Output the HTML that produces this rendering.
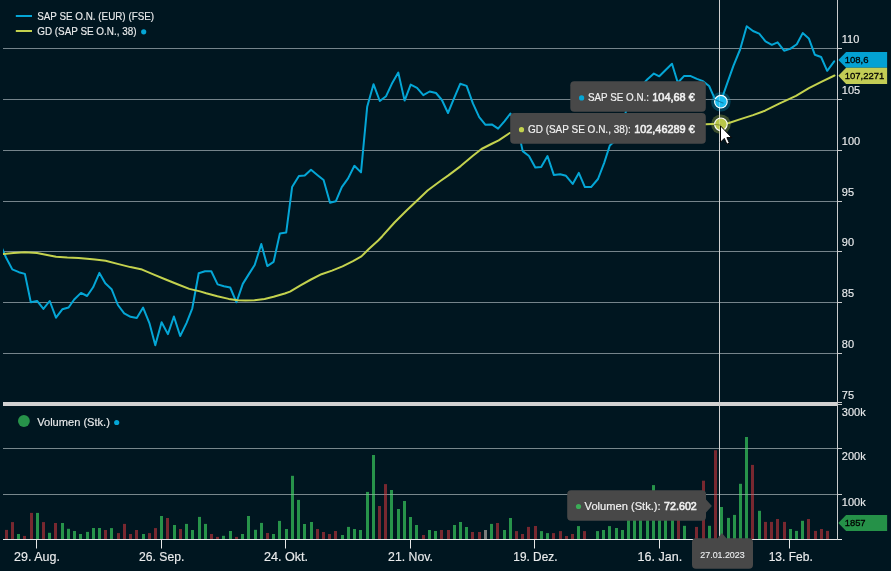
<!DOCTYPE html>
<html><head><meta charset="utf-8"><title>SAP SE Chart</title>
<style>html,body{margin:0;padding:0;background:#001620;}svg{display:block;will-change:transform;}</style>
</head><body>
<svg width="891" height="571" viewBox="0 0 891 571" font-family="'Liberation Sans', Arial, sans-serif"><rect width="891" height="571" fill="#001620"/><defs><clipPath id="cp"><rect x="3" y="0" width="834.5" height="402"/></clipPath><clipPath id="cv"><rect x="3" y="406" width="834.5" height="133"/></clipPath></defs><line x1="3" y1="48.5" x2="842" y2="48.5" stroke="#75848b" stroke-width="1"/><line x1="837" y1="48.5" x2="842" y2="48.5" stroke="#c9cbcc" stroke-width="1"/><line x1="3" y1="99.5" x2="842" y2="99.5" stroke="#75848b" stroke-width="1"/><line x1="837" y1="99.5" x2="842" y2="99.5" stroke="#c9cbcc" stroke-width="1"/><line x1="3" y1="150.5" x2="842" y2="150.5" stroke="#75848b" stroke-width="1"/><line x1="837" y1="150.5" x2="842" y2="150.5" stroke="#c9cbcc" stroke-width="1"/><line x1="3" y1="201.5" x2="842" y2="201.5" stroke="#75848b" stroke-width="1"/><line x1="837" y1="201.5" x2="842" y2="201.5" stroke="#c9cbcc" stroke-width="1"/><line x1="3" y1="251.5" x2="842" y2="251.5" stroke="#75848b" stroke-width="1"/><line x1="837" y1="251.5" x2="842" y2="251.5" stroke="#c9cbcc" stroke-width="1"/><line x1="3" y1="302.5" x2="842" y2="302.5" stroke="#75848b" stroke-width="1"/><line x1="837" y1="302.5" x2="842" y2="302.5" stroke="#c9cbcc" stroke-width="1"/><line x1="3" y1="353.5" x2="842" y2="353.5" stroke="#75848b" stroke-width="1"/><line x1="837" y1="353.5" x2="842" y2="353.5" stroke="#c9cbcc" stroke-width="1"/><line x1="3" y1="448.5" x2="837" y2="448.5" stroke="#3e545b" stroke-width="1"/><line x1="3" y1="494.5" x2="837" y2="494.5" stroke="#3e545b" stroke-width="1"/><rect x="5" y="529.9" width="3" height="9.1" fill="#782830"/><rect x="11" y="522.1" width="3" height="16.9" fill="#782830"/><rect x="17" y="534.0" width="3" height="5.0" fill="#27934a"/><rect x="23" y="535.9" width="3" height="3.1" fill="#782830"/><rect x="30" y="512.9" width="3" height="26.1" fill="#782830"/><rect x="36" y="512.9" width="3" height="26.1" fill="#27934a"/><rect x="42" y="522.1" width="3" height="16.9" fill="#782830"/><rect x="48" y="532.8" width="3" height="6.2" fill="#27934a"/><rect x="54" y="523.0" width="3" height="16.0" fill="#782830"/><rect x="61" y="523.0" width="3" height="16.0" fill="#27934a"/><rect x="67" y="528.8" width="3" height="10.2" fill="#27934a"/><rect x="73" y="531.0" width="3" height="8.0" fill="#27934a"/><rect x="79" y="534.0" width="3" height="5.0" fill="#27934a"/><rect x="86" y="531.9" width="3" height="7.1" fill="#27934a"/><rect x="92" y="528.0" width="3" height="11.0" fill="#27934a"/><rect x="98" y="528.0" width="3" height="11.0" fill="#27934a"/><rect x="104" y="530.0" width="3" height="9.0" fill="#782830"/><rect x="110" y="528.1" width="3" height="10.9" fill="#27934a"/><rect x="117" y="533.1" width="3" height="5.9" fill="#782830"/><rect x="123" y="523.9" width="3" height="15.1" fill="#782830"/><rect x="129" y="534.0" width="3" height="5.0" fill="#782830"/><rect x="135" y="530.0" width="3" height="9.0" fill="#782830"/><rect x="142" y="534.0" width="3" height="5.0" fill="#27934a"/><rect x="148" y="533.1" width="3" height="5.9" fill="#782830"/><rect x="154" y="528.1" width="3" height="10.9" fill="#782830"/><rect x="160" y="516.0" width="3" height="23.0" fill="#27934a"/><rect x="166" y="518.0" width="3" height="21.0" fill="#782830"/><rect x="173" y="525.0" width="3" height="14.0" fill="#27934a"/><rect x="179" y="529.0" width="3" height="10.0" fill="#782830"/><rect x="185" y="523.9" width="3" height="15.1" fill="#27934a"/><rect x="191" y="530.0" width="3" height="9.0" fill="#27934a"/><rect x="198" y="516.9" width="3" height="22.1" fill="#27934a"/><rect x="204" y="523.9" width="3" height="15.1" fill="#27934a"/><rect x="210" y="534.0" width="3" height="5.0" fill="#782830"/><rect x="216" y="536.9" width="3" height="2.1" fill="#782830"/><rect x="222" y="535.8" width="3" height="3.2" fill="#27934a"/><rect x="229" y="531.0" width="3" height="8.0" fill="#27934a"/><rect x="235" y="536.9" width="3" height="2.1" fill="#782830"/><rect x="241" y="534.0" width="3" height="5.0" fill="#27934a"/><rect x="247" y="516.0" width="3" height="23.0" fill="#27934a"/><rect x="254" y="529.8" width="3" height="9.2" fill="#27934a"/><rect x="260" y="522.9" width="3" height="16.1" fill="#27934a"/><rect x="266" y="533.0" width="3" height="6.0" fill="#782830"/><rect x="272" y="534.0" width="3" height="5.0" fill="#27934a"/><rect x="278" y="520.9" width="3" height="18.1" fill="#27934a"/><rect x="285" y="529.0" width="3" height="10.0" fill="#27934a"/><rect x="291" y="475.8" width="3" height="63.2" fill="#27934a"/><rect x="297" y="499.9" width="3" height="39.1" fill="#27934a"/><rect x="303" y="524.0" width="3" height="15.0" fill="#27934a"/><rect x="310" y="522.0" width="3" height="17.0" fill="#27934a"/><rect x="316" y="529.0" width="3" height="10.0" fill="#782830"/><rect x="322" y="532.0" width="3" height="7.0" fill="#782830"/><rect x="328" y="534.0" width="3" height="5.0" fill="#782830"/><rect x="334" y="531.0" width="3" height="8.0" fill="#782830"/><rect x="341" y="535.0" width="3" height="4.0" fill="#27934a"/><rect x="347" y="526.9" width="3" height="12.1" fill="#27934a"/><rect x="353" y="529.0" width="3" height="10.0" fill="#27934a"/><rect x="359" y="530.0" width="3" height="9.0" fill="#27934a"/><rect x="366" y="491.9" width="3" height="47.1" fill="#27934a"/><rect x="372" y="455.0" width="3" height="84.0" fill="#27934a"/><rect x="378" y="506.0" width="3" height="33.0" fill="#782830"/><rect x="384" y="484.1" width="3" height="54.9" fill="#782830"/><rect x="390" y="490.0" width="3" height="49.0" fill="#27934a"/><rect x="397" y="509.0" width="3" height="30.0" fill="#27934a"/><rect x="403" y="501.0" width="3" height="38.0" fill="#27934a"/><rect x="409" y="517.0" width="3" height="22.0" fill="#27934a"/><rect x="415" y="525.0" width="3" height="14.0" fill="#27934a"/><rect x="422" y="535.0" width="3" height="4.0" fill="#782830"/><rect x="428" y="530.0" width="3" height="9.0" fill="#27934a"/><rect x="434" y="531.0" width="3" height="8.0" fill="#27934a"/><rect x="440" y="530.0" width="3" height="9.0" fill="#782830"/><rect x="447" y="530.0" width="3" height="9.0" fill="#782830"/><rect x="453" y="525.0" width="3" height="14.0" fill="#27934a"/><rect x="459" y="522.0" width="3" height="17.0" fill="#27934a"/><rect x="465" y="527.0" width="3" height="12.0" fill="#27934a"/><rect x="471" y="532.0" width="3" height="7.0" fill="#782830"/><rect x="478" y="532.0" width="3" height="7.0" fill="#782830"/><rect x="484" y="530.0" width="3" height="9.0" fill="#7b7b7b"/><rect x="490" y="523.9" width="3" height="15.1" fill="#27934a"/><rect x="496" y="523.0" width="3" height="16.0" fill="#782830"/><rect x="503" y="530.0" width="3" height="9.0" fill="#27934a"/><rect x="509" y="518.0" width="3" height="21.0" fill="#27934a"/><rect x="515" y="531.1" width="3" height="7.9" fill="#782830"/><rect x="521" y="534.0" width="3" height="5.0" fill="#782830"/><rect x="527" y="526.9" width="3" height="12.1" fill="#782830"/><rect x="534" y="526.0" width="3" height="13.0" fill="#782830"/><rect x="540" y="531.1" width="3" height="7.9" fill="#27934a"/><rect x="546" y="533.1" width="3" height="5.9" fill="#27934a"/><rect x="552" y="533.1" width="3" height="5.9" fill="#782830"/><rect x="559" y="531.1" width="3" height="7.9" fill="#782830"/><rect x="565" y="536.0" width="3" height="3.0" fill="#782830"/><rect x="571" y="534.0" width="3" height="5.0" fill="#782830"/><rect x="577" y="526.1" width="3" height="12.9" fill="#27934a"/><rect x="583" y="531.1" width="3" height="7.9" fill="#782830"/><rect x="596" y="531.1" width="3" height="7.9" fill="#27934a"/><rect x="602" y="530.0" width="3" height="9.0" fill="#27934a"/><rect x="608" y="526.1" width="3" height="12.9" fill="#27934a"/><rect x="615" y="528.0" width="3" height="11.0" fill="#27934a"/><rect x="621" y="530.0" width="3" height="9.0" fill="#27934a"/><rect x="627" y="510.0" width="3" height="29.0" fill="#27934a"/><rect x="633" y="505.0" width="3" height="34.0" fill="#27934a"/><rect x="639" y="508.0" width="3" height="31.0" fill="#27934a"/><rect x="646" y="505.0" width="3" height="34.0" fill="#27934a"/><rect x="652" y="485.1" width="3" height="53.9" fill="#27934a"/><rect x="658" y="505.0" width="3" height="34.0" fill="#27934a"/><rect x="664" y="505.0" width="3" height="34.0" fill="#27934a"/><rect x="671" y="505.0" width="3" height="34.0" fill="#27934a"/><rect x="677" y="512.0" width="3" height="27.0" fill="#782830"/><rect x="683" y="525.8" width="3" height="13.2" fill="#27934a"/><rect x="695" y="526.9" width="3" height="12.1" fill="#782830"/><rect x="702" y="480.7" width="3" height="58.3" fill="#782830"/><rect x="708" y="525.8" width="3" height="13.2" fill="#27934a"/><rect x="714" y="450.2" width="3" height="88.8" fill="#782830"/><rect x="720" y="507.0" width="3" height="32.0" fill="#27934a"/><rect x="727" y="517.9" width="3" height="21.1" fill="#27934a"/><rect x="733" y="514.9" width="3" height="24.1" fill="#27934a"/><rect x="739" y="483.8" width="3" height="55.2" fill="#27934a"/><rect x="745" y="437.0" width="3" height="102.0" fill="#27934a"/><rect x="751" y="464.9" width="3" height="74.1" fill="#782830"/><rect x="758" y="510.8" width="3" height="28.2" fill="#27934a"/><rect x="764" y="521.9" width="3" height="17.1" fill="#782830"/><rect x="770" y="521.9" width="3" height="17.1" fill="#782830"/><rect x="776" y="519.0" width="3" height="20.0" fill="#782830"/><rect x="783" y="521.9" width="3" height="17.1" fill="#782830"/><rect x="789" y="529.0" width="3" height="10.0" fill="#27934a"/><rect x="795" y="530.9" width="3" height="8.1" fill="#27934a"/><rect x="801" y="520.8" width="3" height="18.2" fill="#27934a"/><rect x="807" y="519.0" width="3" height="20.0" fill="#782830"/><rect x="814" y="530.9" width="3" height="8.1" fill="#782830"/><rect x="820" y="529.0" width="3" height="10.0" fill="#782830"/><rect x="826" y="530.9" width="3" height="8.1" fill="#782830"/><line x1="3" y1="448.5" x2="837" y2="448.5" stroke="#ffffff" stroke-opacity="0.3" stroke-width="1"/><line x1="837" y1="448.5" x2="842" y2="448.5" stroke="#c9cbcc" stroke-width="1"/><line x1="3" y1="494.5" x2="837" y2="494.5" stroke="#ffffff" stroke-opacity="0.3" stroke-width="1"/><line x1="837" y1="494.5" x2="842" y2="494.5" stroke="#c9cbcc" stroke-width="1"/><rect x="3" y="402" width="834.5" height="4" fill="#d2d2d2"/><line x1="838" y1="402.5" x2="842" y2="402.5" stroke="#c9cbcc" stroke-width="1"/><line x1="838" y1="404.5" x2="842" y2="404.5" stroke="#c9cbcc" stroke-width="1"/><line x1="3" y1="539.5" x2="842" y2="539.5" stroke="#e8e8e8" stroke-width="1.2"/><line x1="837.5" y1="0" x2="837.5" y2="540" stroke="#c9cbcc" stroke-width="1"/><line x1="36.5" y1="539" x2="36.5" y2="548.5" stroke="#e8e8e8" stroke-width="1"/><text x="37.0" y="560.9" fill="#e9ebec" stroke="#e9ebec" stroke-width="0.15" font-size="12.6" text-anchor="middle" textLength="45.8" lengthAdjust="spacingAndGlyphs">29. Aug.</text><line x1="161.5" y1="539" x2="161.5" y2="548.5" stroke="#e8e8e8" stroke-width="1"/><text x="161.7" y="560.9" fill="#e9ebec" stroke="#e9ebec" stroke-width="0.15" font-size="12.6" text-anchor="middle" textLength="45.4" lengthAdjust="spacingAndGlyphs">26. Sep.</text><line x1="285.5" y1="539" x2="285.5" y2="548.5" stroke="#e8e8e8" stroke-width="1"/><text x="286.0" y="560.9" fill="#e9ebec" stroke="#e9ebec" stroke-width="0.15" font-size="12.6" text-anchor="middle" textLength="44.1" lengthAdjust="spacingAndGlyphs">24. Okt.</text><line x1="410.5" y1="539" x2="410.5" y2="548.5" stroke="#e8e8e8" stroke-width="1"/><text x="410.5" y="560.9" fill="#e9ebec" stroke="#e9ebec" stroke-width="0.15" font-size="12.6" text-anchor="middle" textLength="44.8" lengthAdjust="spacingAndGlyphs">21. Nov.</text><line x1="534.5" y1="539" x2="534.5" y2="548.5" stroke="#e8e8e8" stroke-width="1"/><text x="535.4" y="560.9" fill="#e9ebec" stroke="#e9ebec" stroke-width="0.15" font-size="12.6" text-anchor="middle" textLength="44.1" lengthAdjust="spacingAndGlyphs">19. Dez.</text><line x1="659.5" y1="539" x2="659.5" y2="548.5" stroke="#e8e8e8" stroke-width="1"/><text x="659.9" y="560.9" fill="#e9ebec" stroke="#e9ebec" stroke-width="0.15" font-size="12.6" text-anchor="middle" textLength="44.7" lengthAdjust="spacingAndGlyphs">16. Jan.</text><line x1="789.5" y1="539" x2="789.5" y2="548.5" stroke="#e8e8e8" stroke-width="1"/><text x="790.7" y="560.9" fill="#e9ebec" stroke="#e9ebec" stroke-width="0.15" font-size="12.6" text-anchor="middle" textLength="44.1" lengthAdjust="spacingAndGlyphs">13. Feb.</text><line x1="719.5" y1="0" x2="719.5" y2="539" stroke="#d0d0d0" stroke-width="1"/><g clip-path="url(#cp)"><polyline points="-0.2,243.0 6.0,257.5 12.3,269.4 18.9,272.2 24.9,273.9 30.8,302.3 37.1,300.9 43.4,308.9 49.7,301.0 56.0,317.7 62.3,309.3 68.6,307.5 74.2,299.5 81.0,292.9 87.1,296.0 93.1,287.3 99.4,272.9 105.3,283.3 111.6,289.2 117.9,305.0 124.2,313.3 130.5,316.8 136.8,318.0 143.1,307.6 149.4,323.1 155.3,345.2 161.6,322.3 167.9,334.1 173.9,316.5 180.2,336.0 186.5,323.1 192.3,308.3 198.7,273.3 205.0,271.3 211.3,271.3 217.6,284.4 223.9,286.2 230.2,287.5 236.5,302.3 242.8,283.9 248.7,274.4 254.7,265.0 261.3,244.0 267.3,266.1 273.6,261.8 279.9,233.4 286.2,232.6 292.1,187.1 298.9,176.0 304.7,175.6 311.0,169.7 317.3,174.9 323.6,180.0 330.0,202.8 335.8,201.3 341.8,187.1 348.1,178.4 354.4,165.8 361.0,172.4 367.2,106.7 373.5,84.2 379.8,101.0 386.1,96.2 392.4,82.7 398.3,72.6 404.6,100.6 410.7,84.6 417.0,87.8 423.3,95.1 429.7,91.5 436.0,93.0 441.9,100.0 448.0,113.0 453.8,98.9 460.2,83.8 466.6,85.9 472.9,103.4 479.2,117.1 485.5,124.8 491.8,124.4 498.1,128.6 504.4,121.3 510.4,113.5 516.6,123.0 522.7,151.1 529.0,156.0 535.3,167.5 541.2,167.1 547.5,156.0 553.8,174.9 560.2,174.3 566.0,175.8 572.7,183.9 578.8,172.9 584.9,187.1 591.1,187.1 598.0,179.0 604.1,163.1 609.8,145.5 616.0,140.0 622.5,125.0 628.8,100.0 635.0,92.0 641.3,86.0 647.5,79.2 653.9,73.6 659.3,76.3 665.6,70.0 672.0,63.8 677.8,82.8 684.2,75.9 690.2,75.9 696.9,78.9 702.4,80.9 709.1,86.0 714.5,98.1 720.8,101.7 727.1,83.7 733.4,65.8 740.1,49.5 746.7,26.2 753.0,31.0 759.2,33.7 765.5,41.3 771.8,44.8 777.6,42.3 784.1,50.7 790.2,48.9 796.8,44.2 802.7,33.1 808.8,38.4 814.8,54.7 821.1,57.0 827.2,70.8 834.2,61.4" fill="none" stroke="#04a6d6" stroke-width="2" stroke-linejoin="round" stroke-linecap="round"/><polyline points="-0.2,254.3 3.4,254.0 13.5,253.1 24.7,252.3 37.0,253.1 47.1,255.1 56.1,256.8 67.3,257.6 78.6,257.9 89.8,259.0 95.0,259.5 105.6,260.7 118.6,264.1 130.4,267.1 142.1,269.6 153.9,274.7 165.7,279.5 177.5,284.2 189.3,288.9 200.0,291.4 206.2,293.3 217.4,296.3 228.7,298.9 237.6,300.2 245.5,300.5 254.5,300.3 264.6,299.0 273.6,296.8 284.8,293.5 290.0,291.6 300.5,285.3 311.0,279.5 321.5,274.2 332.0,270.6 342.5,266.4 353.0,261.1 361.4,256.4 368.8,249.0 378.2,240.5 382.3,236.2 394.5,222.5 406.8,210.2 416.6,200.9 427.6,190.5 440.0,181.3 448.4,175.4 460.7,166.1 472.9,155.7 481.5,149.0 491.3,144.0 498.7,140.3 509.7,133.0 560.0,128.5 620.0,126.5 680.0,125.2 706.0,124.3 720.8,123.8 728.9,123.0 740.5,119.1 753.0,115.1 765.0,110.7 779.2,103.6 796.0,95.8 808.9,88.1 821.8,81.6 834.5,75.5" fill="none" stroke="#c3d24e" stroke-width="2" stroke-linejoin="round" stroke-linecap="round"/></g><text x="841.8" y="43.0" fill="#e9ebec" stroke="#e9ebec" stroke-width="0.15" font-size="11">110</text><text x="841.8" y="94.0" fill="#e9ebec" stroke="#e9ebec" stroke-width="0.15" font-size="11">105</text><text x="841.8" y="145.0" fill="#e9ebec" stroke="#e9ebec" stroke-width="0.15" font-size="11">100</text><text x="841.8" y="196.0" fill="#e9ebec" stroke="#e9ebec" stroke-width="0.15" font-size="11">95</text><text x="841.8" y="246.0" fill="#e9ebec" stroke="#e9ebec" stroke-width="0.15" font-size="11">90</text><text x="841.8" y="297.0" fill="#e9ebec" stroke="#e9ebec" stroke-width="0.15" font-size="11">85</text><text x="841.8" y="348.0" fill="#e9ebec" stroke="#e9ebec" stroke-width="0.15" font-size="11">80</text><text x="841.8" y="398.7" fill="#e9ebec" stroke="#e9ebec" stroke-width="0.15" font-size="11">75</text><text x="841.8" y="415.5" fill="#e9ebec" stroke="#e9ebec" stroke-width="0.15" font-size="11">300k</text><text x="841.8" y="460.4" fill="#e9ebec" stroke="#e9ebec" stroke-width="0.15" font-size="11">200k</text><text x="841.8" y="505.8" fill="#e9ebec" stroke="#e9ebec" stroke-width="0.15" font-size="11">100k</text><path d="M838.3,59.9 L846.1,52 L887.1,52 L887.1,67.8 L846.1,67.8 Z" fill="#03a1d3"/><text x="844.7" y="62.75" fill="#000000" stroke="#000000" stroke-width="0.3" font-size="9.9" textLength="23.8" lengthAdjust="spacingAndGlyphs">108,6</text><path d="M838.3,75.85 L846.1,67.8 L887.1,67.8 L887.1,83.9 L846.1,83.9 Z" fill="#c2cc55"/><text x="844.7" y="78.85" fill="#000000" stroke="#000000" stroke-width="0.3" font-size="9.9" textLength="39.6" lengthAdjust="spacingAndGlyphs">107,2271</text><path d="M838.3,522.95 L846.1,514.9 L887.1,514.9 L887.1,531 L846.1,531 Z" fill="#259148"/><text x="844.7" y="525.95" fill="#000000" stroke="#000000" stroke-width="0.3" font-size="9.9" textLength="20.9" lengthAdjust="spacingAndGlyphs">1857</text><line x1="15.8" y1="16" x2="32" y2="16" stroke="#04a6d6" stroke-width="2"/><text x="37.2" y="19.8" fill="#e9ebec" stroke="#e9ebec" stroke-width="0.15" font-size="11" textLength="116.9" lengthAdjust="spacingAndGlyphs">SAP SE O.N. (EUR) (FSE)</text><line x1="15.8" y1="31" x2="32" y2="31" stroke="#c3d24e" stroke-width="2"/><text x="37.2" y="35" fill="#e9ebec" stroke="#e9ebec" stroke-width="0.15" font-size="11" textLength="99.3" lengthAdjust="spacingAndGlyphs">GD (SAP SE O.N., 38)</text><circle cx="143.7" cy="31.8" r="2.6" fill="#04a6d6"/><circle cx="23.9" cy="421" r="5.9" fill="#27934a"/><text x="37.2" y="426.4" fill="#e9ebec" stroke="#e9ebec" stroke-width="0.15" font-size="11" textLength="72.7" lengthAdjust="spacingAndGlyphs">Volumen (Stk.)</text><circle cx="116.7" cy="422.5" r="2.6" fill="#04a6d6"/><circle cx="720.9" cy="101.7" r="9.8" fill="#04a6d6" fill-opacity="0.3"/><circle cx="720.9" cy="101.7" r="6.3" fill="#19bbee" stroke="#ffffff" stroke-width="1.1"/><circle cx="720.9" cy="124.3" r="9.8" fill="#c3d24e" fill-opacity="0.3"/><circle cx="720.9" cy="124.3" r="6.3" fill="#b9c64a" stroke="#ffffff" stroke-width="1.1"/><line x1="719.5" y1="95" x2="719.5" y2="131" stroke="#ffffff" stroke-opacity="0.3" stroke-width="1"/><line x1="714" y1="99.3" x2="723.5" y2="103.2" stroke="#0b6e95" stroke-opacity="0.8" stroke-width="1.1"/><line x1="714" y1="124.2" x2="721" y2="125.3" stroke="#6f7a2a" stroke-opacity="0.7" stroke-width="1.1"/><rect x="570.3" y="81.3" width="135.5" height="30.5" rx="4" fill="#484848"/><circle cx="581.6" cy="97.9" r="2.6" fill="#04a6d6"/><text x="588" y="101.4" fill="#f0f0f0" stroke="#f0f0f0" stroke-width="0.2" font-size="11.5"><tspan textLength="61" lengthAdjust="spacingAndGlyphs">SAP SE O.N.:</tspan><tspan x="652.3" stroke-width="0.6" textLength="42.4" lengthAdjust="spacingAndGlyphs">104,68 €</tspan></text><rect x="510.2" y="113.1" width="195.6" height="30.6" rx="4" fill="#484848"/><circle cx="521.5" cy="129.7" r="2.6" fill="#c3d24e"/><text x="527.9" y="133.2" fill="#f0f0f0" stroke="#f0f0f0" stroke-width="0.2" font-size="11.5"><tspan textLength="103" lengthAdjust="spacingAndGlyphs">GD (SAP SE O.N., 38):</tspan><tspan x="634.2" stroke-width="0.6" textLength="60.5" lengthAdjust="spacingAndGlyphs">102,46289 €</tspan></text><path d="M571.2,490.3 H702 Q706,490.3 706,494.3 V499.5 L711.9,506 L706,512.4 V516.8 Q706,520.8 702,520.8 H571.2 Q567.2,520.8 567.2,516.8 V494.3 Q567.2,490.3 571.2,490.3 Z" fill="#484848"/><circle cx="578.5" cy="506.5" r="2.6" fill="#27934a" style="fill:#3bad57"/><text x="584.6" y="509.8" fill="#f0f0f0" stroke="#f0f0f0" stroke-width="0.2" font-size="11.6"><tspan textLength="76" lengthAdjust="spacingAndGlyphs">Volumen (Stk.):</tspan><tspan x="664.1" stroke-width="0.6" textLength="32.7" lengthAdjust="spacingAndGlyphs">72.602</tspan></text><path d="M696,538.3 H717.6 L721.9,532.9 L726.4,538.3 H749 Q753,538.3 753,542.3 V564.8 Q753,568.8 749,568.8 H696 Q692,568.8 692,564.8 V542.3 Q692,538.3 696,538.3 Z" fill="#484848"/><text x="722.5" y="558" fill="#e9ebec" stroke="#e9ebec" stroke-width="0.15" font-size="9" text-anchor="middle" textLength="44.3" lengthAdjust="spacingAndGlyphs">27.01.2023</text><path d="M720.5,125.9 L720.5,142.2 L724.3,138.4 L726.9,144.2 L729.4,143.1 L726.9,137.6 L731.7,137.6 Z" fill="#ffffff" stroke="#000000" stroke-width="1" stroke-linejoin="miter"/></svg>
</body></html>
